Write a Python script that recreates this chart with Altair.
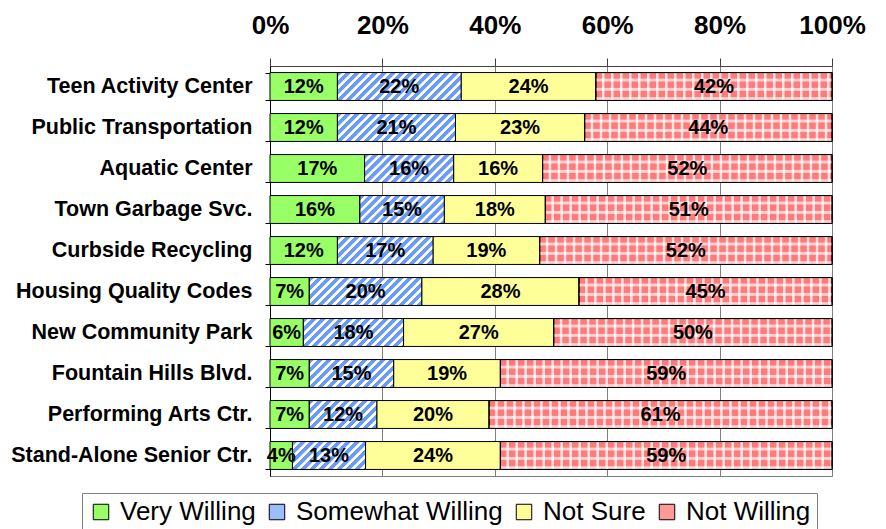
import altair as alt
import pandas as pd

categories = [
    "Teen Activity Center", "Public Transportation", "Aquatic Center",
    "Town Garbage Svc.", "Curbside Recycling", "Housing Quality Codes",
    "New Community Park", "Fountain Hills Blvd.", "Performing Arts Ctr.",
    "Stand-Alone Senior Ctr.",
]
series = ["Very Willing", "Somewhat Willing", "Not Sure", "Not Willing"]
very_willing = [12, 12, 17, 16, 12, 7, 6, 7, 7, 4]
somewhat_willing = [22, 21, 16, 15, 17, 20, 18, 15, 12, 13]
not_sure = [24, 23, 16, 18, 19, 28, 27, 19, 20, 24]
not_willing = [42, 44, 52, 51, 52, 45, 50, 59, 61, 59]
x_ticks = [0, 0.2, 0.4, 0.6, 0.8, 1.0]

rows = []
for si, (name, vals) in enumerate(zip(series, [very_willing, somewhat_willing, not_sure, not_willing])):
    for c, v in zip(categories, vals):
        rows.append({"category": c, "series": name, "order": si, "value": v, "label": f"{v}%"})
df = pd.DataFrame(rows)

PLOT_W = 562
PLOT_H = 410
BAR_H = 28
FONT = "Liberation Sans"


def stops_expr(n, c_on, c_off, on=0.45, soft=0.1):
    parts = []
    for i in range(n):
        b = i / n
        p = 1.0 / n
        parts += [(b, c_on), (b + p * on, c_on), (b + p * (on + soft), c_off), (b + p * (1 - soft), c_off)]
    parts.append((1.0, c_on))
    return "[" + ",".join("{offset: %.5f, color: '%s'}" % (o, c) for o, c in parts) + "]"


w = f"((datum.x1 - datum.x0) * {PLOT_W})"
den = f"({w} * {w} + {BAR_H * BAR_H})"
# diagonal hatch ("/"), constant 9px period
L1 = 20 * 9
hatch_expr = (
    "{gradient: 'linear', x1: 0, y1: 0, "
    f"x2: {L1} * {w} / {den}, y2: {L1 * BAR_H} / {den}, "
    f"stops: {stops_expr(20, '#6a9cf6', '#ffffff', on=0.5, soft=0.08)}}}"
)
# vertical stripes for dotted pattern, constant 9px period
L2 = 40 * 9
dots_expr = (
    "{gradient: 'linear', x1: 0, y1: 0, "
    f"x2: {L2} / {w}, y2: 0, "
    f"stops: {stops_expr(40, '#ff7b7b', '#ffe0e0', on=0.62, soft=0.1)}}}"
)
h_stops = []
for i in range(3):
    b = i / 3
    p = 1 / 3
    h_stops += [
        alt.GradientStop(offset=b, color="rgba(255,255,255,0)"),
        alt.GradientStop(offset=b + p * 0.6, color="rgba(255,255,255,0)"),
        alt.GradientStop(offset=b + p * 0.7, color="rgba(255,255,255,0.65)"),
        alt.GradientStop(offset=b + p * 0.92, color="rgba(255,255,255,0.65)"),
    ]
h_grad = alt.Gradient(gradient="linear", x1=0, y1=0, x2=0, y2=1, stops=h_stops)

x_axis = alt.Axis(
    orient="top", format="%", values=x_ticks, title=None,
    labelFontSize=26, labelFontWeight="bold", labelColor="black", labelFont=FONT,
    labelPadding=20, labelFlush=False, tickSize=8, tickColor="#404040",
    domainColor="#404040", grid=True, gridColor="#808080", gridWidth=1,
)
y_axis = alt.Axis(
    title=None, labelFontSize=21.5, labelFontWeight="bold", labelColor="black",
    labelFont=FONT, labelPadding=13, labelLimit=400, tickSize=5, tickBand="extent",
    tickColor="black", domainColor="black", grid=False,
)
x_scale = alt.Scale(domain=[0, 1], nice=False)
y_enc = alt.Y("category:N", sort=categories,
              scale=alt.Scale(paddingInner=0.32, paddingOuter=0.16), axis=y_axis)
x_enc = alt.X("x0:Q", scale=x_scale, axis=x_axis)
x2_enc = alt.X2("x1:Q")

base = alt.Chart(df).transform_stack(
    stack="value", as_=["x0", "x1"], groupby=["category"],
    sort=[alt.SortField("order", order="ascending")], offset="normalize",
)

bars = base.mark_bar(stroke="black", strokeWidth=1, opacity=1).encode(
    x=x_enc, x2=x2_enc, y=y_enc,
    color=alt.Color(
        "series:N", sort=series,
        scale=alt.Scale(domain=series, range=["#99ff66", "#9dbdfa", "#ffff99", "#ff9a9a"]),
        legend=alt.Legend(
            title=None, orient="none", legendX=-188, legendY=427,
            direction="horizontal", columns=4, symbolType="square", symbolSize=240,
            symbolStrokeColor="black", symbolStrokeWidth=1, symbolOpacity=1,
            labelFontSize=26, labelFont=FONT, labelColor="black", labelLimit=400,
            strokeColor="#808080", padding=6, columnPadding=8, labelOffset=6,
        ),
    ),
)

hatch = base.transform_filter(alt.datum.series == "Somewhat Willing").mark_bar(
    fill={"expr": hatch_expr}, stroke="black", strokeWidth=1
).encode(x=x_enc, x2=x2_enc, y=y_enc)

dots = base.transform_filter(alt.datum.series == "Not Willing").mark_bar(
    fill={"expr": dots_expr}, stroke="black", strokeWidth=1
).encode(x=x_enc, x2=x2_enc, y=y_enc)

dots2 = base.transform_filter(alt.datum.series == "Not Willing").mark_bar(
    fill=h_grad, stroke="black", strokeWidth=1
).encode(x=x_enc, x2=x2_enc, y=y_enc)

labels = base.transform_calculate(mid="(datum.x0 + datum.x1) / 2").mark_text(
    fontSize=20, fontWeight="bold", color="black", font=FONT, baseline="middle"
).encode(x=alt.X("mid:Q", scale=x_scale, axis=x_axis), y=y_enc, text="label:N")

chart = alt.layer(bars, hatch, dots, dots2, labels).properties(
    width=PLOT_W, height=PLOT_H, autosize="none",
    padding={"left": 262, "top": 58, "right": 40, "bottom": 53},
).configure(font=FONT).configure_view(stroke="#808080", strokeWidth=1)

chart.save("out.html", embed_options={"renderer": "svg", "actions": False})
